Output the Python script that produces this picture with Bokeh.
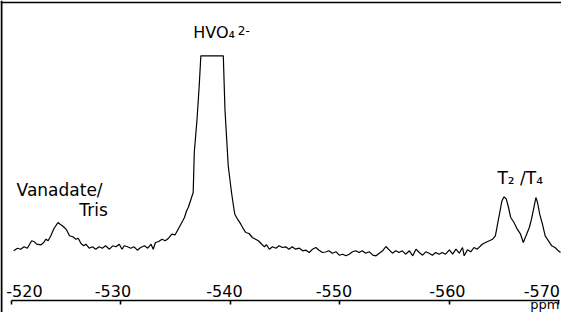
from bokeh.plotting import figure
from bokeh.models import Range1d, LinearAxis, FixedTicker, Label, Span, ColumnDataSource
from bokeh.core.properties import value
from bokeh.embed import file_html
from bokeh.resources import INLINE

# 51V NMR spectrum, chemical shift (ppm) and intensity (arbitrary units, peak clipped)
ppm = [
    -520.2, -520.55, -520.85, -521.15, -521.45, -521.85, -522.1, -522.3, -522.7, -522.95,
    -523.15, -523.35, -523.6, -523.85, -524.05, -524.25, -524.45, -524.65, -524.9, -525.05,
    -525.3, -525.6, -525.9, -526.1, -526.35, -526.6, -526.8, -527.1, -527.4, -527.7,
    -528.0, -528.3, -528.6, -528.95, -529.25, -529.55, -529.85, -530.1, -530.3, -530.6,
    -530.9, -531.2, -531.5, -531.8, -532.15, -532.45, -532.75, -532.95, -533.15, -533.45,
    -533.75, -534.05, -534.35, -534.65, -534.95, -535.15, -535.4, -535.65, -535.8, -536.0,
    -536.15, -536.45, -536.6, -536.7, -536.95, -537.15, -537.3, -539.35, -539.5, -539.8,
    -540.1, -540.3, -540.4, -540.65, -540.95, -541.2, -541.4, -541.7, -542.0, -542.3,
    -542.55, -542.8, -543.1, -543.3, -543.55, -543.85, -544.15, -544.45, -544.75, -545.05,
    -545.35, -545.65, -545.95, -546.3, -546.6, -546.9, -547.2, -547.5, -547.8, -548.1,
    -548.4, -548.7, -549.0, -549.3, -549.65, -549.95, -550.25, -550.55, -550.85, -551.15,
    -551.45, -551.75, -552.05, -552.35, -552.7, -553.0, -553.3, -553.6, -553.9, -554.2,
    -554.5, -554.8, -555.1, -555.4, -555.7, -556.0, -556.35, -556.65, -556.95, -557.25,
    -557.55, -557.85, -558.15, -558.45, -558.75, -559.05, -559.35, -559.65, -560.0, -560.3,
    -560.6, -560.9, -561.2, -561.35, -561.65, -561.95, -562.25, -562.55, -562.85, -563.0,
    -563.3, -563.65, -563.95, -564.2, -564.4, -564.6, -564.8, -565.0, -565.2, -565.4,
    -565.6, -565.9, -566.2, -566.5, -566.75, -567.0, -567.3, -567.5, -567.75, -567.9,
    -568.05, -568.25, -568.5, -568.75, -569.05, -569.35, -569.65, -569.95, -570.15,
]
intensity = [
    1.7, 4.3, 3.3, 5.7, 4.3, 11.7, 10.7, 8.3, 7.7, 10.0,
    13.3, 11.7, 16.7, 23.3, 26.7, 30.0, 28.3, 26.7, 24.3, 22.3,
    16.7, 15.7, 13.3, 14.3, 9.0, 6.7, 8.3, 4.3, 5.7, 3.3,
    5.7, 4.3, 6.7, 3.3, 6.7, 5.7, 8.3, 3.3, 6.7, 5.7,
    4.3, 5.7, 2.3, 5.0, 6.7, 4.3, 8.3, 3.3, 10.0, 11.0,
    13.3, 11.7, 14.3, 18.3, 17.7, 21.7, 26.7, 31.7, 35.0, 41.7,
    45.0, 55.0, 60.0, 100.0, 133.3, 166.7, 196.7, 196.7, 143.3, 86.7,
    60.0, 45.0, 38.3, 33.3, 28.3, 23.3, 20.0, 19.0, 15.0, 13.3,
    11.7, 9.0, 5.7, 7.7, 3.3, 5.7, 4.3, 6.7, 5.0, 5.7,
    3.3, 5.7, 3.3, 4.3, 1.7, 2.3, 0.0, 3.3, 5.0, 2.3,
    0.0, 0.5, 1.7, -0.7, 0.7, -2.7, -1.7, -3.3, -1.7, 0.7,
    1.7, 0.0, 1.7, -0.7, 0.7, -2.7, -3.3, -0.7, 1.7, 6.0,
    2.7, -0.7, 1.7, 0.0, 1.7, -1.7, 1.7, -3.3, 3.3, 0.0,
    -2.7, 0.7, -0.7, -2.7, 0.0, -1.7, 0.0, -1.7, 2.7, -1.7,
    3.3, -0.7, 5.0, -3.3, 2.7, 0.7, 5.0, 3.3, 6.7, 8.3,
    10.0, 11.7, 13.3, 16.7, 28.3, 40.0, 51.7, 55.7, 53.3, 45.0,
    35.0, 30.0, 23.3, 18.3, 10.0, 16.7, 25.0, 33.3, 46.7, 55.0,
    50.0, 38.3, 28.3, 16.7, 11.7, 6.7, 5.0, 1.7, 0.0,
]

tick_values = [-520, -530, -540, -550, -560, -570]
tick_labels = ["-520", "-530", "-540", "-550", "-560", "-570"]

FONT = "DejaVu Sans"

p = figure(width=561, height=312, output_backend="svg", toolbar_location=None,
           x_range=Range1d(-519.0, -570.24), y_range=Range1d(-60, 252),
           x_axis_location=None, y_axis_location=None, min_border=0)
p.outline_line_color = None
p.xgrid.visible = False
p.ygrid.visible = False
p.background_fill_color = "white"
p.border_fill_color = "white"

src = ColumnDataSource(dict(ppm=ppm, intensity=intensity))
p.line("ppm", "intensity", source=src, line_color="black", line_width=1.2)

# axis drawn across the bottom of the frame: line with ticks pointing down
axis = LinearAxis(fixed_location=-47.5,
                  ticker=FixedTicker(ticks=tick_values),
                  major_label_overrides={v: "" for v in tick_values},
                  major_label_text_color=None,
                  major_tick_in=4, major_tick_out=0,
                  minor_tick_in=0, minor_tick_out=0,
                  axis_line_width=1.6, axis_line_color="black",
                  major_tick_line_width=1.6, major_tick_line_color="black",
                  bounds=(-570.1, -520))
p.add_layout(axis, "above")

# hand-lettered tick labels sit above the axis line, slightly off-centre
tick_src = ColumnDataSource(dict(x=tick_values, text=tick_labels,
                                 dx=[13, -8, -6, -6, -2, -17]))
p.text(x="x", y=-38.5, text="text", x_offset="dx", source=tick_src,
       text_align="center", text_baseline="middle",
       text_font=value(FONT), text_font_size="16px", text_color="black")

# page frame lines from the scan
p.add_layout(Span(location=250, dimension="width", line_color="black", line_width=1.5))
p.add_layout(Span(location=-519.09, dimension="height", line_color="black", line_width=2))

labels = [
    Label(x=-520.47, y=62.5, text="Vanadate/", text_align="left", text_font_size="17px"),
    Label(x=-528.8, y=42.7, text="Tris", text_align="right", text_font_size="17px"),
    Label(x=-536.6, y=220, text="HVO₄", text_align="left", text_font_size="16px"),
    Label(x=-540.67, y=222, text="2-", text_align="left", text_font_size="12px"),
    Label(x=-564.39, y=75, text="T₂ /T₄", text_align="left", text_font_size="17px"),
    Label(x=-570.05, y=-51.9, text="ppm", text_align="right", text_font_size="13px"),
]
for lab in labels:
    lab.text_font = FONT
    lab.text_color = "black"
    lab.text_baseline = "middle"
    p.add_layout(lab)

open("out.html", "w").write(file_html(p, INLINE))
